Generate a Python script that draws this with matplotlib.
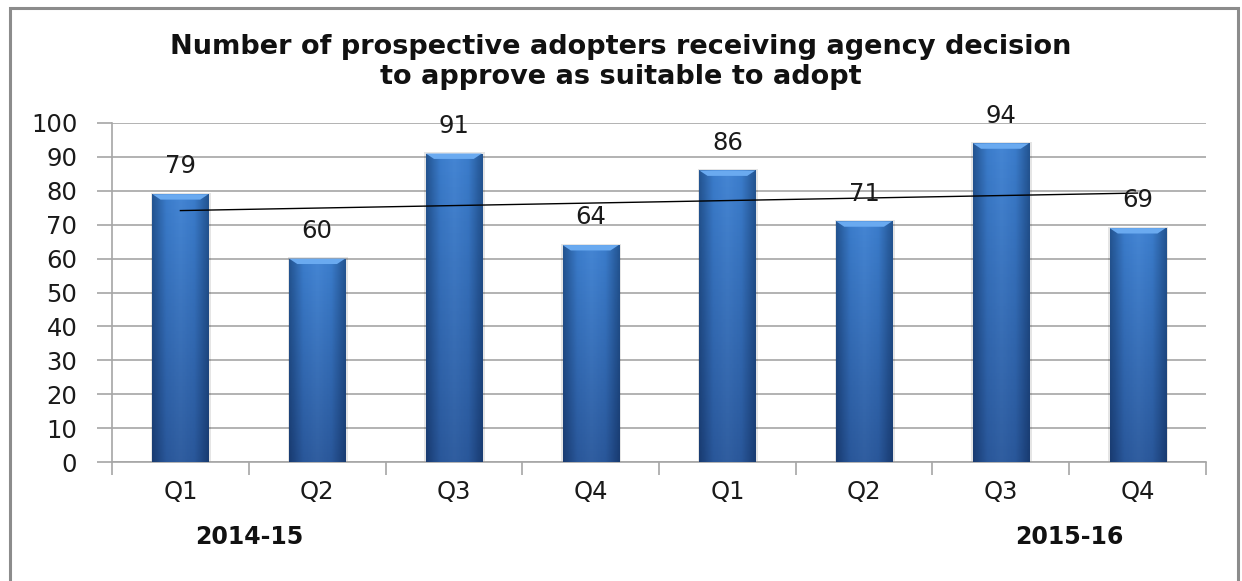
import numpy as np
import matplotlib
matplotlib.use("Agg")
import matplotlib.pyplot as plt
from matplotlib.patches import Rectangle, Polygon
from matplotlib.colors import LinearSegmentedColormap

quarters = ['Q1', 'Q2', 'Q3', 'Q4', 'Q1', 'Q2', 'Q3', 'Q4']
approvals = [79, 60, 91, 64, 86, 71, 94, 69]
years = ['2014-15', '2015-16']
year_pos = [0.5, 6.5]

title = ('Number of prospective adopters receiving agency decision\n'
         'to approve as suitable to adopt')

fig = plt.figure(figsize=(12.42, 5.81), dpi=100)
ax = fig.add_axes([0.0902, 0.2048, 0.8808, 0.5835])

x = np.arange(len(approvals))
width = 0.41

# shading for bars: darker at edges and bottom
cmap = LinearSegmentedColormap.from_list('barblue', ['#245592', '#3b7ccb', '#4586d4', '#3b7ccb', '#245592'])
hx = np.linspace(0, 1, 60)
vy = np.linspace(0, 1, 100)
H, V = np.meshgrid(hx, vy)

for xi, v in zip(x, approvals):
    left = xi - width / 2
    # soft shadow
    ax.add_patch(Rectangle((left - 0.01, 0), width + 0.03, v + 0.4, facecolor='#000000',
                           alpha=0.10, edgecolor='none', zorder=2))
    rect = Rectangle((left, 0), width, v, facecolor='none', edgecolor='none', zorder=3)
    ax.add_patch(rect)
    img = ax.imshow(H, cmap=cmap, extent=[left, left + width, 0, v], origin='lower',
                    aspect='auto', zorder=3, vmin=0, vmax=1)
    img.set_clip_path(rect)
    # vertical darkening towards bottom
    dark = np.zeros((100, 2, 4))
    dark[..., 2] = 0.15
    dark[..., 3] = (1 - vy[:, None]) * 0.3
    ax.imshow(dark, extent=[left, left + width, 0, v], origin='lower', aspect='auto',
              zorder=3.1).set_clip_path(rect)
    # bevelled top edge
    bev = 1.6
    ax.add_patch(Polygon([[left, v], [left + width, v], [left + width - 0.06, v - bev],
                          [left + 0.06, v - bev]], closed=True, facecolor='#6aaaf0',
                         edgecolor='none', zorder=3.2))
    ax.text(xi, v + 8.2, str(v), ha='center', va='center', fontsize=17.5, color='#1a1a1a', zorder=5)

# linear trend line across the quarters
coef = np.polyfit(x, approvals, 1)
ax.plot(x, np.polyval(coef, x), color='black', lw=1.0, zorder=4)

ax.set_xlim(-0.5, len(approvals) - 0.5)
ax.set_ylim(0, 100)
ax.set_yticks(np.arange(0, 101, 10))
ax.yaxis.grid(True, color='#a6a6a6', lw=1.2)
ax.set_axisbelow(True)
for s in ['top', 'right']:
    ax.spines[s].set_visible(False)
ax.spines['left'].set_color('#a6a6a6')
ax.spines['bottom'].set_color('#a6a6a6')
ax.spines['left'].set_linewidth(1.2)
ax.spines['bottom'].set_linewidth(1.2)

ax.set_xticks(np.arange(-0.5, len(approvals), 1.0))
ax.set_xticklabels([])
ax.set_xticks(x, minor=True)
ax.set_xticklabels(quarters, minor=True)
ax.tick_params(axis='x', which='major', length=9, color='#a6a6a6', width=1.2)
ax.tick_params(axis='x', which='minor', length=0, pad=13, labelsize=17.5, labelcolor='#1a1a1a')
ax.tick_params(axis='y', length=11, color='#a6a6a6', width=1.2, labelsize=17.5,
               labelcolor='#1a1a1a', pad=14)

for yr, p in zip(years, year_pos):
    ax.text(p, -22, yr, ha='center', va='center', fontsize=17, fontweight='bold',
            color='#111111', transform=ax.transData, clip_on=False)

fig.text(0.5, 0.893, title, ha='center', va='center', fontsize=19.5, fontweight='bold',
         color='#111111', linespacing=1.18)

# chart area border
fig.add_artist(Rectangle((10 / 1242, -0.01), 1228 / 1242, 1 - 8 / 581 + 0.01,
                         transform=fig.transFigure, facecolor='none', edgecolor='#8c8c8c',
                         lw=2.2))

fig.savefig('out.png', dpi=100)
